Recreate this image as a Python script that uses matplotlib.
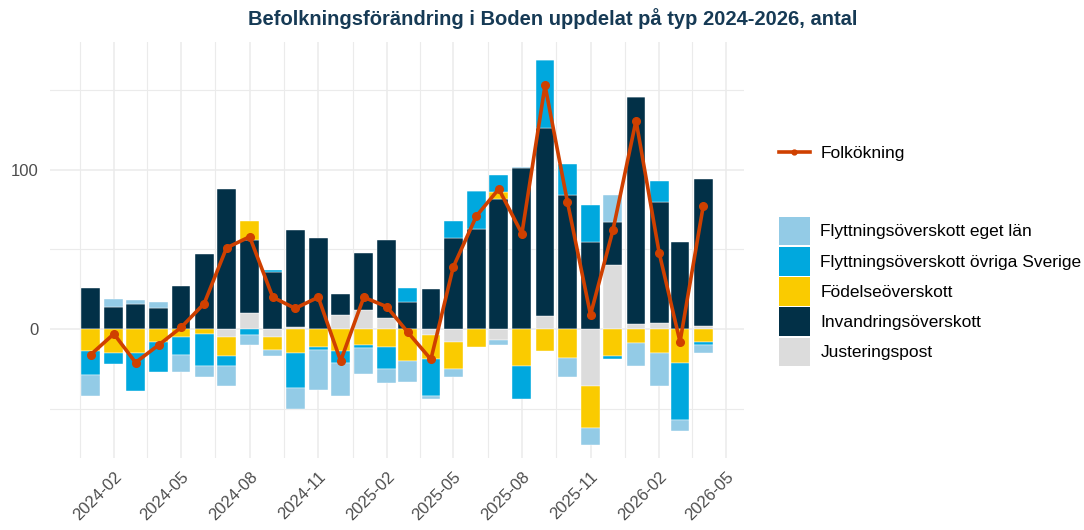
import matplotlib
matplotlib.use("Agg")
import matplotlib.pyplot as plt
import matplotlib.dates as mdates
from matplotlib.patches import Patch
from matplotlib.lines import Line2D
import numpy as np
import pandas as pd

plt.rcParams["font.family"] = ["Liberation Sans", "DejaVu Sans"]

# data (antal personer per månad)
months = pd.date_range("2024-01-01", periods=28, freq="MS")
eget_lan = [-13, 5, 2, 4, -11, -7, -13, -6, -4, -13, -25, -21, -16, -9,
            -13, -2, -5, 0, -3, 1, 0, -12, -11, 17, -14, -21, -7, -5]
ovriga_sverige = [-15, -7, -24, -19, -11, -20, -6, -4, 1, -22, -2, -7, -2, -14,
                  9, -23, 11, 24, 11, -21, 43, 20, 23, -2, 0, 13, -36, -2]
fodelse = [-14, -15, -15, -8, -5, -3, -12, 12, -8, -15, -11, -14, -10, -11,
           -20, -15, -17, -11, 4, -23, -14, -18, -26, -17, -9, -15, -21, -8]
invandring = [26, 14, 16, 13, 27, 47, 88, 46, 36, 61, 57, 13, 36, 49,
              17, 25, 57, 63, 82, 101, 118, 84, 55, 27, 143, 76, 55, 92]
justering = [0, 0, 0, 0, 0, 0, -5, 10, -5, 1, 0, 9, 12, 7,
             0, -4, -8, 0, -7, 0, 8, 0, -36, 40, 3, 4, 0, 2]
folkokning = [-16, -3, -21, -10, 1, 16, 51, 58, 20, 13, 20, -20, 20, 14,
              -2, -19, 39, 71, 88, 60, 153, 80, 9, 62, 131, 48, -8, 77]

labels = ["Flyttningsöverskott eget län", "Flyttningsöverskott övriga Sverige",
          "Födelseöverskott", "Invandringsöverskott", "Justeringspost"]
colors = ["#93CBE6", "#00A8DE", "#FACB00", "#023047", "#DCDCDC"]
series = [eget_lan, ovriga_sverige, fodelse, invandring, justering]

fig = plt.figure(figsize=(10.84, 5.30), dpi=100)
ax = fig.add_axes([0.0461, 0.1358, 0.6402, 0.7855])

x = mdates.date2num(months)
pos = np.zeros(len(x))
neg = np.zeros(len(x))
# stapla nerifrån: Justeringspost först, eget län överst
for vals, col in zip(series[::-1], colors[::-1]):
    v = np.array(vals, dtype=float)
    bottom = np.where(v >= 0, pos, neg)
    ax.bar(x, v, bottom=bottom, width=25.2, color=col, edgecolor="white",
           linewidth=0.3, zorder=2)
    pos = pos + np.where(v >= 0, v, 0)
    neg = neg + np.where(v < 0, v, 0)

ax.plot(x, folkokning, color="#CF4000", linewidth=2.6, marker="o",
        markersize=5.5, zorder=3)

ax.set_xlim(x[0] - 54.7, x[-1] + 54.7)
ax.set_ylim(-81, 180.5)

major = mdates.date2num(pd.date_range("2024-02-01", "2026-05-01", freq="3MS"))
minor = list((major[:-1] + major[1:]) / 2)
minor = [major[0] - (major[1] - major[0]) / 2] + minor
ax.set_xticks(major)
ax.set_xticklabels([mdates.num2date(m).strftime("%Y-%m") for m in major],
                   rotation=45, ha="right", va="top", rotation_mode="anchor")
ax.set_xticks(minor, minor=True)
ax.set_yticks([0, 100])
ax.set_yticks([-50, 50, 150], minor=True)

ax.grid(True, which="major", color="#EBEBEB", linewidth=1.1, zorder=0)
ax.grid(True, which="minor", color="#EBEBEB", linewidth=0.8, zorder=0)
ax.set_axisbelow(True)
for s in ax.spines.values():
    s.set_visible(False)
ax.tick_params(which="both", length=0, labelsize=12, colors="#4D4D4D", pad=8)

fig.text(0.51, 0.965, "Befolkningsförändring i Boden uppdelat på typ 2024-2026, antal",
         ha="center", va="center", fontsize=14.5, fontweight="bold", color="#163A55")

# legender
line_handle = [Line2D([0], [0], color="#CF4000", linewidth=2.6, marker="o", markersize=3.5)]
leg1 = fig.legend(line_handle, ["Folkökning"], loc="center left",
                  bbox_to_anchor=(0.704, 0.711), frameon=False, fontsize=12.5,
                  handlelength=1.8, handletextpad=0.6)
patches = [Patch(facecolor=c, edgecolor="none") for c in colors]
leg2 = fig.legend(patches, labels, loc="center left",
                  bbox_to_anchor=(0.704, 0.45), frameon=False, fontsize=12.5,
                  handlelength=1.8, handleheight=2.15, labelspacing=0.1,
                  handletextpad=0.6)

fig.savefig("out.png", dpi=100)
